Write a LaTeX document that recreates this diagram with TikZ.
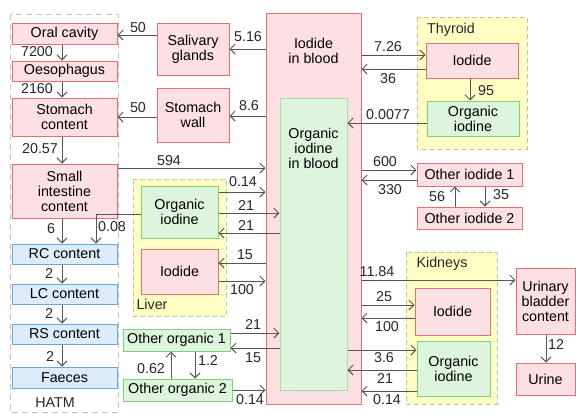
\documentclass[tikz,border=0pt]{standalone}
\usepackage{fontspec}
\setmainfont{Liberation Sans}
\usetikzlibrary{arrows.meta}
\definecolor{pinkF}{HTML}{FDE0E3}
\definecolor{pinkD}{HTML}{E46F73}
\definecolor{greenF}{HTML}{DDF5DD}
\definecolor{greenD}{HTML}{7ED27E}
\definecolor{blueF}{HTML}{DCECFA}
\definecolor{blueD}{HTML}{6FA6D8}
\definecolor{yelF}{HTML}{FFFFC4}
\definecolor{yelD}{HTML}{C4C49A}
\definecolor{arrC}{HTML}{555555}
\definecolor{hatmD}{HTML}{C4C4C4}
\tikzset{
  txt/.style={font=\fontsize{14.3}{15}\selectfont, align=center, inner sep=0pt},
  pbox/.style={txt, draw=pinkD, fill=pinkF, line width=1pt},
  gbox/.style={txt, draw=greenD, fill=greenF, line width=1pt},
  bbox/.style={txt, draw=blueD, fill=blueF, line width=1pt},
  ybox/.style={draw=yelD, fill=yelF, line width=0.9pt, dash pattern=on 5pt off 3pt},
  lbl/.style={font=\fontsize{14.3}{15}\selectfont, inner sep=0pt, text=black!85},
  arr/.style={draw=arrC, line width=0.9pt, -{Straight Barb[length=5pt,width=10pt,line width=0.9pt]}},
}
\begin{document}
\begin{tikzpicture}[x=1pt,y=-1pt]
\useasboundingbox (0,0) rectangle (576,413);
% group boxes
\draw[draw=hatmD, line width=0.8pt, dash pattern=on 6pt off 4pt] (10,14) rectangle (118,412);
\node[lbl] (hatm) at (55,403) {HATM};
\draw[ybox] (133,179) rectangle (226,316);
\node[lbl] (liverlbl) at (152,304) {Liver};
\draw[ybox] (417,17) rectangle (527,149);
\node[lbl] (thylbl) at (451,30) {Thyroid};
\draw[ybox] (406,252) rectangle (497,404);
\node[lbl] (kidlbl) at (442,264) {Kidneys};
% HATM chain
\node[pbox, minimum width=105pt, minimum height=21pt] (oral) at (64.5,33.5) {Oral cavity};
\node[pbox, minimum width=105pt, minimum height=20pt] (oeso) at (64.5,71) {Oesophagus};
\node[pbox, minimum width=105pt, minimum height=38pt] (stom) at (64.5,117) {Stomach\\content};
\node[pbox, minimum width=105pt, minimum height=54pt] (small) at (64.5,191) {Small\\intestine\\content};
\node[bbox, minimum width=105pt, minimum height=20pt] (rc) at (64.5,254) {RC content};
\node[bbox, minimum width=105pt, minimum height=20pt] (lc) at (64.5,294) {LC content};
\node[bbox, minimum width=105pt, minimum height=20pt] (rs) at (64.5,334) {RS content};
\node[bbox, minimum width=105pt, minimum height=21pt] (faeces) at (64.5,377.5) {Faeces};
% salivary & stomach wall
\node[pbox, minimum width=72pt, minimum height=52pt] (saliv) at (193,49) {Salivary\\glands};
\node[pbox, minimum width=72pt, minimum height=54pt] (swall) at (193,115) {Stomach\\wall};
% blood
\node[pbox, minimum width=95pt, minimum height=391pt] (blood) at (313.5,208.5) {};
\node[txt] (bloodtxt) at (313.5,51) {Iodide\\in blood};
\node[gbox, draw=greenD!70, minimum width=67pt, minimum height=292pt] (oblood) at (313.5,244) {};
\node[txt] (obloodtxt) at (313.5,148) {Organic\\iodine\\in blood};
% liver
\node[gbox, minimum width=77pt, minimum height=52pt] (livorg) at (179.5,212) {Organic\\iodine};
\node[pbox, minimum width=77pt, minimum height=45pt] (livio) at (179.5,271.5) {Iodide};
% other organic
\node[gbox, minimum width=107pt, minimum height=22pt] (oo1) at (176.5,340) {Other organic 1};
\node[gbox, minimum width=109pt, minimum height=22pt] (oo2) at (177.5,390) {Other organic 2};
% thyroid
\node[pbox, minimum width=92pt, minimum height=35pt] (thyio) at (472,60.5) {Iodide};
\node[gbox, minimum width=92pt, minimum height=35pt] (thyorg) at (473,118.5) {Organic\\iodine};
% other iodide
\node[pbox, minimum width=105pt, minimum height=23pt] (oi1) at (469.5,174.5) {Other iodide 1};
\node[pbox, minimum width=105pt, minimum height=22pt] (oi2) at (469.5,218) {Other iodide 2};
% kidneys
\node[pbox, minimum width=75pt, minimum height=47pt] (kidio) at (452.5,311.5) {Iodide};
\node[gbox, minimum width=73pt, minimum height=55pt] (kidorg) at (453.5,368.5) {Organic\\iodine};
\node[pbox, minimum width=59pt, minimum height=66pt] (blad) at (545.5,301) {Urinary\\bladder\\content};
\node[pbox, minimum width=59pt, minimum height=32pt] (urine) at (545.5,379) {Urine};
% HATM vertical arrows
\draw[arr] (oral.south -| 62,0) -- (oeso.north -| 62,0);
\node[lbl] (l7200) at (37,52) {7200};
\draw[arr] (oeso.south -| 62,0) -- (stom.north -| 62,0);
\node[lbl] (l2160) at (37,89) {2160};
\draw[arr] (stom.south -| 62,0) -- (small.north -| 62,0);
\node[lbl] (l2057) at (40,149) {20.57};
\draw[arr] (small.south -| 62,0) -- (rc.north -| 62,0);
\node[lbl] (l6) at (51,229) {6};
\draw[arr] (rc.south -| 62,0) -- (lc.north -| 62,0);
\node[lbl] (l2a) at (49,274) {2};
\draw[arr] (lc.south -| 62,0) -- (rs.north -| 62,0);
\node[lbl] (l2b) at (49,314) {2};
\draw[arr] (rs.south -| 62,0) -- (faeces.north -| 62,0);
\node[lbl] (l2c) at (50,357) {2};
% liver organic -> RC
\draw[arr] (livorg.west |- 0,214) -| (rc.north -| 96,0);
\node[lbl] (l008) at (112,227) {0.08};
% salivary/stomach wall
\draw[arr] (saliv.west |- 0,35) -- (oral.east |- 0,35);
\node[lbl] (l50a) at (138,28) {50};
\draw[arr] (swall.west |- 0,117) -- (stom.east |- 0,117);
\node[lbl] (l50b) at (138,108) {50};
\draw[arr] (blood.west |- 0,49) -- (saliv.east |- 0,49);
\node[lbl] (l516) at (248,37) {5.16};
\draw[arr] (blood.west |- 0,116) -- (swall.east |- 0,116);
\node[lbl] (l86) at (249,106) {8.6};
\draw[arr] (small.east |- 0,168) -- (blood.west |- 0,168);
\node[lbl] (l594) at (169,161) {594};
% liver arrows
\draw[arr] (livorg.east |- 0,192) -- (blood.west |- 0,192);
\node[lbl] (l014a) at (243,182) {0.14};
\draw[arr] (livorg.east |- 0,213) -- (oblood.west |- 0,213);
\node[lbl] (l21a) at (246,206) {21};
\draw[arr] (oblood.west |- 0,233) -- (livorg.east |- 0,233);
\node[lbl] (l21b) at (246,226) {21};
\draw[arr] (blood.west |- 0,263) -- (livio.east |- 0,263);
\node[lbl] (l15a) at (245,255) {15};
\draw[arr] (livio.east |- 0,281) -- (blood.west |- 0,281);
\node[lbl] (l100a) at (242,290) {100};
% other organic
\draw[arr] (oo1.east |- 0,333) -- (oblood.west |- 0,333);
\node[lbl] (l21c) at (253,325) {21};
\draw[arr] (oblood.west |- 0,348) -- (oo1.east |- 0,348);
\node[lbl] (l15b) at (253,358) {15};
\draw[arr] (oo2.east |- 0,390) -- (blood.west |- 0,390);
\node[lbl] (l014b) at (250,400) {0.14};
\draw[arr] (oo2.north -| 171,0) -- (oo1.south -| 171,0);
\node[lbl] (l062) at (151,369) {0.62};
\draw[arr] (oo1.south -| 195,0) -- (oo2.north -| 195,0);
\node[lbl] (l12a) at (208,361) {1.2};
% thyroid
\draw[arr] (blood.east |- 0,55) -- (thyio.west |- 0,55);
\node[lbl] (l726) at (388,47) {7.26};
\draw[arr] (thyio.west |- 0,69) -- (blood.east |- 0,69);
\node[lbl] (l36) at (388,79) {36};
\draw[arr] (thyorg.west |- 0,123) -- (oblood.east |- 0,123);
\node[lbl] (l0077) at (388,115) {0.0077};
\draw[arr] (thyio.south -| 470,0) -- (thyorg.north -| 470,0);
\node[lbl] (l95) at (486,91) {95};
% other iodide
\draw[arr] (blood.east |- 0,170) -- (oi1.west |- 0,170);
\node[lbl] (l600) at (385,162) {600};
\draw[arr] (oi1.west |- 0,180) -- (blood.east |- 0,180);
\node[lbl] (l330) at (390,190) {330};
\draw[arr] (oi2.north -| 455,0) -- (oi1.south -| 455,0);
\node[lbl] (l56) at (437,197) {56};
\draw[arr] (oi1.south -| 485,0) -- (oi2.north -| 485,0);
\node[lbl] (l35) at (501,195) {35};
% kidneys & bladder
\draw[arr] (blood.east |- 0,280) -- (blad.west |- 0,280);
\node[lbl] (l1184) at (377,272) {11.84};
\draw[arr] (blood.east |- 0,305) -- (kidio.west |- 0,305);
\node[lbl] (l25) at (384,297) {25};
\draw[arr] (kidio.west |- 0,318) -- (blood.east |- 0,318);
\node[lbl] (l100b) at (387,327) {100};
\draw[arr] (oblood.east |- 0,350) -- (kidorg.west |- 0,350);
\node[lbl] (l36b) at (384,358) {3.6};
\draw[arr] (kidorg.west |- 0,370) -- (oblood.east |- 0,370);
\node[lbl] (l21d) at (385,379) {21};
\draw[arr] (kidorg.west |- 0,391) -- (blood.east |- 0,391);
\node[lbl] (l014c) at (387,400) {0.14};
\draw[arr] (blad.south -| 546,0) -- (urine.north -| 546,0);
\node[lbl] (l12) at (556,345) {12};
\end{tikzpicture}
\end{document}
